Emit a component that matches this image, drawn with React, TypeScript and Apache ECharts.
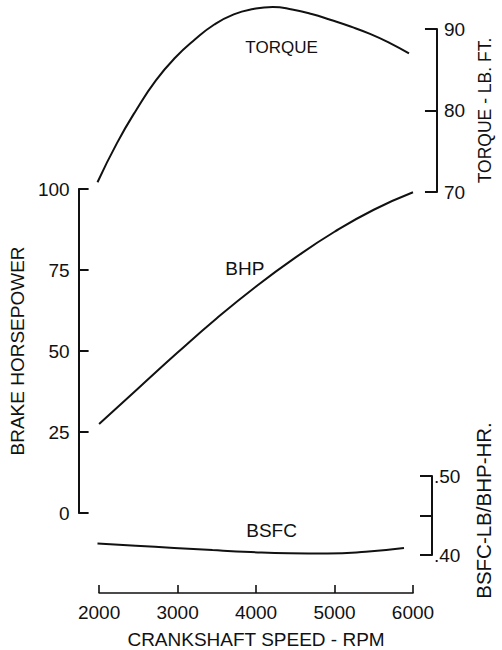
import React, { useEffect, useRef } from "react";
import * as echarts from "echarts";

const rpm = [2000, 2500, 3000, 3500, 4000, 4500, 5000, 5500, 6000];
const bhp = [27.5, 38.5, 49.5, 60.1, 69.9, 78.8, 86.8, 93.6, 99.0];
const bsfc = [0.4146, 0.4118, 0.409, 0.4062, 0.4038, 0.4022, 0.4018, 0.404, 0.4088];
const torqueRpm = [
  2000, 2250, 2500, 2750, 3000, 3250, 3500, 3750, 4000, 4250, 4500, 4750, 5000, 5250, 5500, 5750, 6000,
];
const torque = [
  71.2, 76.0, 80.1, 83.7, 86.5, 88.7, 90.55, 91.8, 92.45, 92.7, 92.4, 91.85, 91.1, 90.3, 89.4, 88.3, 87.0,
];

const xTitle = "CRANKSHAFT SPEED - RPM";
const bhpTitle = "BRAKE HORSEPOWER";
const torqueTitle = "TORQUE - LB. FT.";
const bsfcTitle = "BSFC-LB/BHP-HR.";
const curveLabels = { torque: "TORQUE", bhp: "BHP", bsfc: "BSFC" };
const labelPos = {
  torque: [4364, 87.7],
  bhp: [3857, 75.6],
  bsfc: [4272, 0.4316],
};

const FONT = "Liberation Sans";
const INK = "#111";

function App() {
  const ref = useRef<HTMLDivElement>(null);
  useEffect(() => {
    if (!ref.current) return;
    const chart = echarts.init(ref.current, undefined, { renderer: "svg" });
    const text = { fontFamily: FONT, fontSize: 19, color: INK };
    const axisLine = { show: true, onZero: false, lineStyle: { color: INK, width: 2 } };
    const mk = (name: string, coord: number[], size: number) => ({
      symbol: "rect",
      symbolSize: [1, 1],
      itemStyle: { color: "transparent" },
      label: { show: true, position: "inside", formatter: name, ...text, fontSize: size },
      data: [{ coord }],
    });
    const grids = [
      { left: 97.5, right: 89, top: 189, height: 324 },
      { left: 97.5, right: 89, top: 29, height: 163 },
      { left: 97.5, right: 89, top: 476, height: 79 },
    ];
    const xBase = { type: "value", min: 2000, max: 6000, interval: 1000 };
    const line = (
      name: string,
      idx: number,
      xs: number[],
      ys: number[],
      label: string,
      coord: number[],
      size: number
    ) => ({
      type: "line",
      name,
      xAxisIndex: idx,
      yAxisIndex: idx,
      data: xs.map((r, i) => [r, ys[i]]),
      smooth: 0.5,
      showSymbol: false,
      clip: false,
      lineStyle: { color: INK, width: 2 },
      markPoint: mk(label, coord, size),
    });
    chart.setOption({
      animation: false,
      backgroundColor: "#fff",
      textStyle: { fontFamily: FONT },
      grid: grids,
      xAxis: [
        {
          ...xBase,
          gridIndex: 0,
          position: "bottom",
          offset: 80,
          axisLine: { show: true, onZero: false, lineStyle: { color: INK, width: 1.6 } },
          axisTick: { show: true, inside: true, length: 8, lineStyle: { color: INK, width: 1.6 } },
          axisLabel: { ...text, margin: 10, formatter: (v: number) => String(v) },
          splitLine: { show: false },
          name: xTitle,
          nameLocation: "middle",
          nameGap: 37,
          nameTextStyle: { ...text },
        },
        { ...xBase, gridIndex: 1, show: false },
        { ...xBase, gridIndex: 2, show: false },
      ],
      yAxis: [
        {
          type: "value",
          gridIndex: 0,
          position: "left",
          min: 0,
          max: 100,
          interval: 25,
          offset: 20.5,
          axisLine,
          axisTick: { show: true, inside: true, length: 10, lineStyle: { color: INK, width: 2 } },
          axisLabel: { ...text, margin: 9 },
          splitLine: { show: false },
          name: bhpTitle,
          nameLocation: "middle",
          nameGap: 45,
          nameTextStyle: { ...text },
        },
        {
          type: "value",
          gridIndex: 1,
          position: "right",
          min: 70,
          max: 90,
          interval: 10,
          offset: 28,
          axisLine,
          axisTick: { show: true, inside: true, length: 12, lineStyle: { color: INK, width: 2 } },
          axisLabel: { ...text, margin: 7 },
          splitLine: { show: false },
          name: torqueTitle,
          nameLocation: "middle",
          nameGap: 36,
          nameTextStyle: { ...text, fontSize: 17.5 },
        },
        {
          type: "value",
          gridIndex: 2,
          position: "right",
          min: 0.4,
          max: 0.5,
          interval: 0.05,
          offset: 28,
          axisLine,
          axisTick: { show: true, inside: true, length: 12, lineStyle: { color: INK, width: 2 } },
          axisLabel: {
            ...text,
            margin: 2,
            formatter: (v: number) =>
              Math.abs(v - 0.45) < 0.001 ? "" : "." + Math.round(v * 100),
          },
          splitLine: { show: false },
          name: bsfcTitle,
          nameLocation: "middle",
          nameGap: 41,
          nameTextStyle: { ...text, fontSize: 20.5, padding: [0, 0, 0, 10] },
        },
      ],
      series: [
        line("BHP", 0, rpm, bhp, curveLabels.bhp, labelPos.bhp, 19),
        line("TORQUE", 1, torqueRpm, torque, curveLabels.torque, labelPos.torque, 17),
        line("BSFC", 2, rpm, bsfc, curveLabels.bsfc, labelPos.bsfc, 19),
      ],
    });
    return () => chart.dispose();
  }, []);
  return (
    <div
      ref={ref}
      style={{ position: "absolute", left: 0, top: 0, width: 502, height: 650 }}
    />
  );
}

export default App;
